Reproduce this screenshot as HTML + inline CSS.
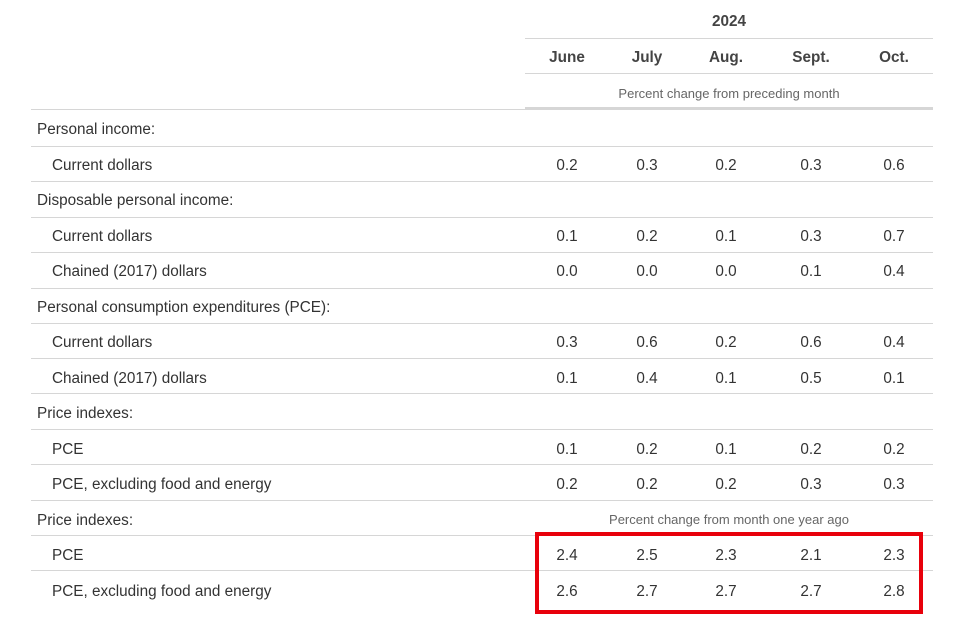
<!DOCTYPE html>
<html><head><style>
body{margin:0;width:959px;height:626px;background:#fff;position:relative;font-family:"Liberation Sans",sans-serif;color:#333;overflow:hidden}
.t{position:absolute;font-size:15.3px;white-space:nowrap;line-height:18px}
.c{position:absolute;font-size:15.3px;width:80px;margin-left:-40px;text-align:center;line-height:18px}
.b{font-weight:bold;color:#444}
.h{position:absolute;height:1px;background:#d6d6d6}
.s{position:absolute;font-size:13px;color:#666;text-align:center;line-height:16px}
</style></head><body>
<div class="c b" style="left:729px;top:13px">2024</div>
<div class="h" style="left:525px;width:408px;top:38px"></div>
<div class="c b" style="left:567px;top:49px">June</div>
<div class="c b" style="left:647px;top:49px">July</div>
<div class="c b" style="left:726px;top:49px">Aug.</div>
<div class="c b" style="left:811px;top:49px">Sept.</div>
<div class="c b" style="left:894px;top:49px">Oct.</div>
<div class="h" style="left:525px;width:408px;top:73px"></div>
<div class="s" style="left:525px;width:408px;top:86px">Percent change from preceding month</div>
<div class="h" style="left:31px;width:494px;top:109px"></div>
<div class="h" style="left:525px;width:408px;top:107px;height:3px"></div>
<div id="rows"></div>
<div class="s" style="left:525px;width:408px;top:512px">Percent change from month one year ago</div>
<div style="position:absolute;left:535px;top:532px;width:380px;height:74px;border:4px solid #e8000b"></div>
<script>
var rows=[["Personal income:",0],["Current dollars",1,["0.2","0.3","0.2","0.3","0.6"]],["Disposable personal income:",0],["Current dollars",1,["0.1","0.2","0.1","0.3","0.7"]],["Chained (2017) dollars",1,["0.0","0.0","0.0","0.1","0.4"]],["Personal consumption expenditures (PCE):",0],["Current dollars",1,["0.3","0.6","0.2","0.6","0.4"]],["Chained (2017) dollars",1,["0.1","0.4","0.1","0.5","0.1"]],["Price indexes:",0],["PCE",1,["0.1","0.2","0.1","0.2","0.2"]],["PCE, excluding food and energy",1,["0.2","0.2","0.2","0.3","0.3"]],["Price indexes:",0],["PCE",1,["2.4","2.5","2.3","2.1","2.3"]],["PCE, excluding food and energy",1,["2.6","2.7","2.7","2.7","2.8"]]];
var xs=[567,647,726,811,894],h="",lines=[146,181,217,252,288,323,358,393,429,464,500,535,570];
rows.forEach(function(r,i){var cy=130+i*35.5;h+='<div class="t" style="left:'+(r[1]?52:37)+'px;top:'+(cy-9)+'px">'+r[0]+'</div>';
if(r[2])r[2].forEach(function(v,j){h+='<div class="c" style="left:'+xs[j]+'px;top:'+(cy-9)+'px">'+v+'</div>'});});
lines.forEach(function(y){h+='<div class="h" style="left:31px;width:902px;top:'+y+'px"></div>'});
document.getElementById("rows").innerHTML=h;
</script>
</body></html>
